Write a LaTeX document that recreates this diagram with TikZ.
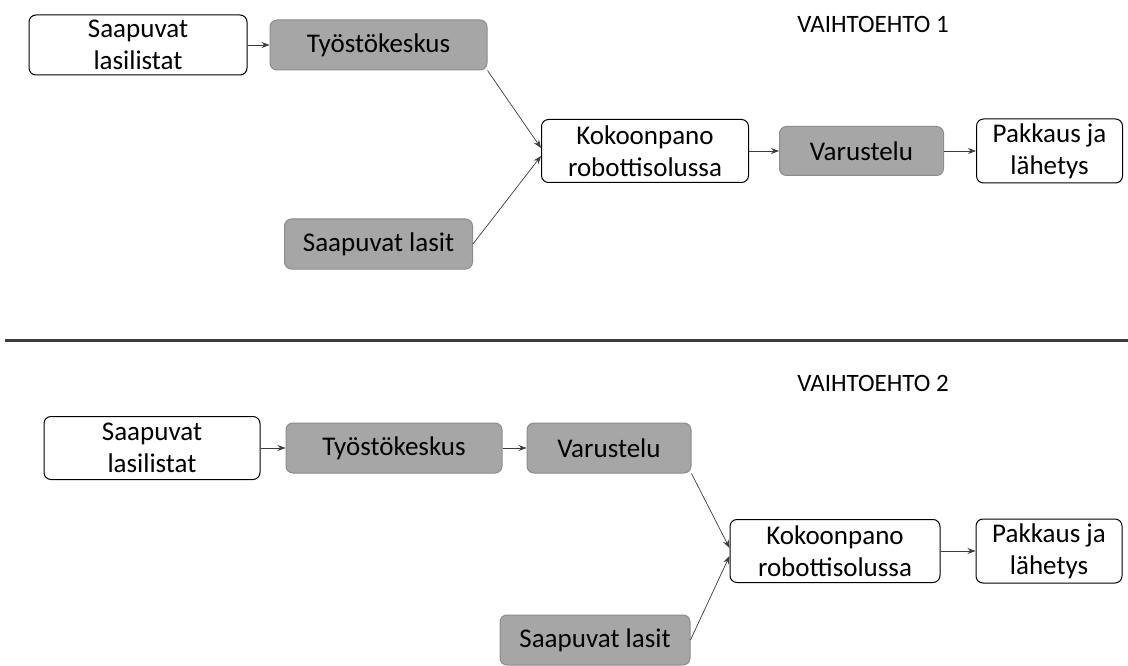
\documentclass[tikz,border=0pt]{standalone}
\usepackage{fontspec}
\setmainfont{Carlito}
\usetikzlibrary{positioning}
\usetikzlibrary{arrows.meta}
\definecolor{boxgray}{RGB}{166,166,166}
\definecolor{boxedge}{RGB}{140,140,140}
\definecolor{linegray}{RGB}{60,60,60}
\tikzset{
    box/.style={draw=black,line width=1pt,rounded corners=7pt,fill=white,align=center,
        inner sep=0pt,font=\fontsize{27}{32}\selectfont},
    graybox/.style={box,draw=boxedge,fill=boxgray},
    otsikko/.style={font=\fontsize{25}{30}\selectfont,inner sep=0pt}
}
\begin{document}
\begin{tikzpicture}[x=1pt,y=-1pt]
    \useasboundingbox (0,0) rectangle (1128,666);
    %Vaihtoehto 1
    \begin{scope}
        \node[box,minimum width=218pt,minimum height=60pt](lasilistat1) at (138,45) {Saapuvat\\lasilistat};
        \node[graybox,minimum width=217pt,minimum height=50pt](tyosto1)[right=22pt of lasilistat1] {Työstökeskus};
        \node[graybox,minimum width=188pt,minimum height=50pt](lasit1)[below=148pt of tyosto1] {Saapuvat lasit};
        \node[box,minimum width=207pt,minimum height=63pt](koko1) at (645,151) {Kokoonpano\\robottisolussa};
        \node[graybox,minimum width=164pt,minimum height=49pt](varustelu1)[right=30pt of koko1] {Varustelu};
        \node[box,minimum width=146pt,minimum height=64pt](pakkaus1)[right=32pt of varustelu1] {Pakkaus ja\\lähetys};
        \node[otsikko](vaihtoehto1) at (873,24) {VAIHTOEHTO 1};
    \end{scope}
    %Vaihtoehto 2
    \begin{scope}
        \node[box,minimum width=216pt,minimum height=63pt](lasilistat2) at (152,448) {Saapuvat\\lasilistat};
        \node[graybox,minimum width=216pt,minimum height=50pt](tyosto2)[right=25pt of lasilistat2] {Työstökeskus};
        \node[graybox,minimum width=164pt,minimum height=50pt](varustelu2)[right=24pt of tyosto2] {Varustelu};
        \node[box,minimum width=210pt,minimum height=63pt](koko2) at (835,551) {Kokoonpano\\robottisolussa};
        \node[box,minimum width=146pt,minimum height=64pt](pakkaus2)[right=35pt of koko2] {Pakkaus ja\\lähetys};
        \node[graybox,minimum width=190pt,minimum height=50pt](lasit2) at (595,640) {Saapuvat lasit};
        \node[otsikko](vaihtoehto2) at (873,383) {VAIHTOEHTO 2};
    \end{scope}
    %Erotin
    \coordinate (erotin alku) at (5,340);
    \coordinate (erotin loppu) at (1128,340);
    \draw[line width=3pt,linegray] (erotin alku) -- (erotin loppu);
    %Lines
    \begin{scope}[>={Stealth[length=8pt,width=6pt]}, linegray, line width=0.7pt]
        \draw[->] (lasilistat1) -- (tyosto1);
        \draw[->] (tyosto1.south east) -- ([yshift=3pt]koko1.west);
        \draw[->] (lasit1.east) -- ([yshift=-5pt]koko1.west);
        \draw[->] (koko1) -- (varustelu1);
        \draw[->] (varustelu1) -- (pakkaus1);
        \draw[->] (lasilistat2) -- (tyosto2);
        \draw[->] (tyosto2) -- (varustelu2);
        \draw[->] (varustelu2.south east) -- ([yshift=3pt]koko2.west);
        \draw[->] (lasit2.east) -- ([yshift=-5pt]koko2.west);
        \draw[->] (koko2) -- (pakkaus2);
    \end{scope}
\end{tikzpicture}
\end{document}
